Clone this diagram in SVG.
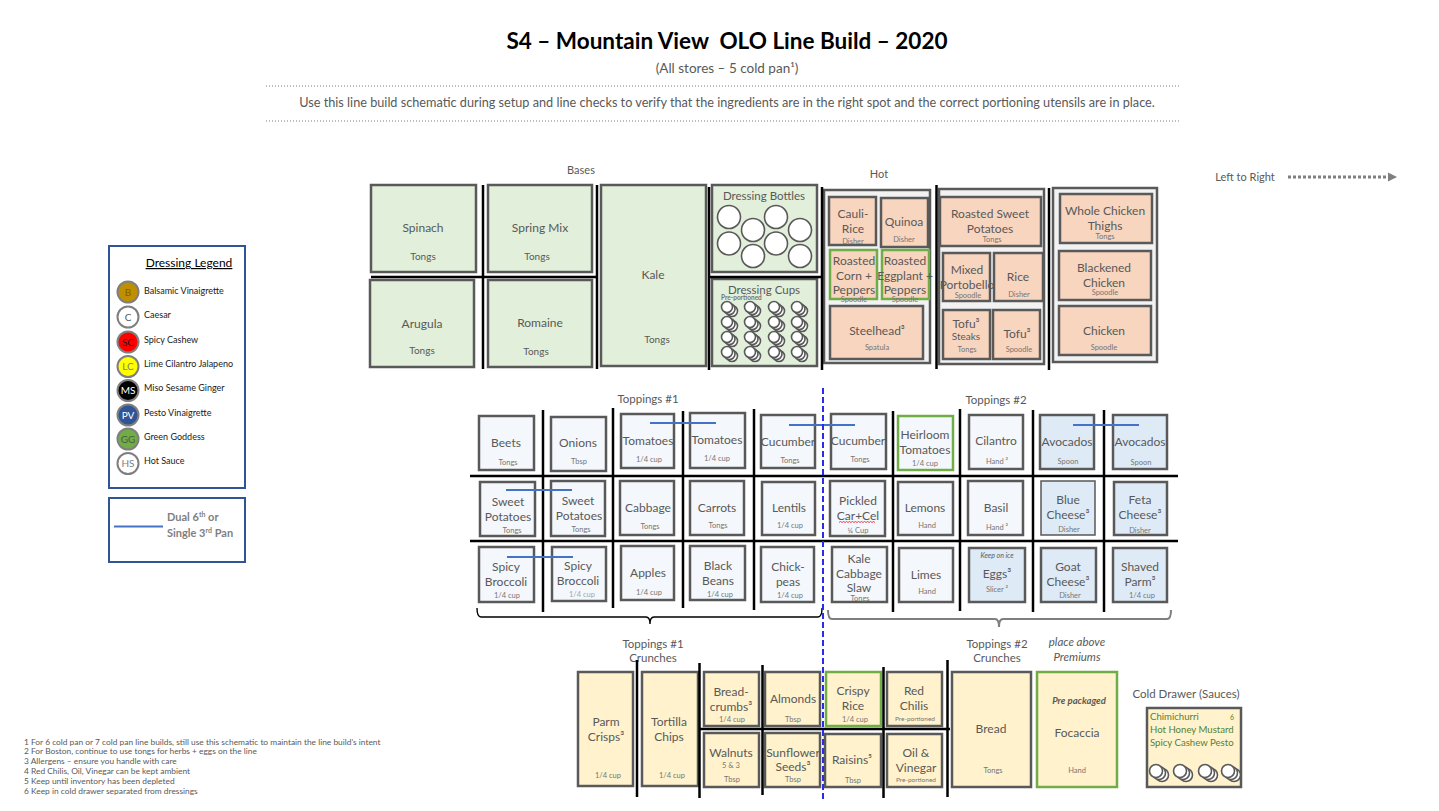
<svg xmlns="http://www.w3.org/2000/svg" xmlns:xlink="http://www.w3.org/1999/xlink" width="1439" height="811" viewBox="0 0 1439 811">
<style>
text{font-family:Lato,"Open Sans","Liberation Sans",sans-serif;fill:#595959}
.pan{stroke:#595959;stroke-width:2.5}
.g{fill:#E2EFDA}.h{fill:#F8D5BF}.t{fill:#F4F7FB}.p{fill:#DEEBF7}.c{fill:#FFF2CC}.box{fill:#F2F2F2;stroke:#595959;stroke-width:2.5}
.gs{stroke:#70AD47}
.sep{stroke:#000;stroke-width:2.5}
.dual{stroke:#4472C4;stroke-width:2}
.n{font-size:12px;text-anchor:middle}
.s{font-size:10px;text-anchor:middle}
.u{font-size:7.5px;fill:#767676;text-anchor:middle}
.lbl{font-size:11.5px;text-anchor:middle}
.lg{font-size:9px;fill:#1a1a1a}
.lc{stroke:#7F7F7F;stroke-width:2}
.lci{font-size:10px;text-anchor:middle}
.fn{font-size:8.4px;fill:#595959}
.cd{font-size:9.6px;fill:#548235}
.bot{fill:#fff;stroke:#595959;stroke-width:1.6}
</style>
<defs>
<g id="cup"><circle cx="5" cy="4" r="5.5" class="bot" stroke-width="1"/><circle cx="2.5" cy="2" r="5.5" class="bot" stroke-width="1"/><circle cx="0" cy="0" r="5.5" class="bot" stroke-width="1"/></g>
<g id="cup2"><circle cx="6" cy="4" r="6.5" class="bot" stroke-width="1"/><circle cx="3" cy="2" r="6.5" class="bot" stroke-width="1"/><circle cx="0" cy="0" r="6.5" class="bot" stroke-width="1"/></g>
</defs>

<g id="header">
<text x="727" y="49" text-anchor="middle" xml:space="preserve" style="font-size:22.5px;font-weight:bold;fill:#000">S4 – Mountain View  OLO Line Build – 2020</text>
<text x="727" y="73" text-anchor="middle" style="font-size:13.5px">(All stores – 5 cold pan¹)</text>
<line x1="266" y1="86" x2="1181" y2="86" stroke="#7F7F7F" stroke-width="1.2" stroke-dasharray="1 2"/>
<text x="727" y="107" text-anchor="middle" style="font-size:12.7px">Use this line build schematic during setup and line checks to verify that the ingredients are in the right spot and the correct portioning utensils are in place.</text>
<line x1="266" y1="121" x2="1181" y2="121" stroke="#7F7F7F" stroke-width="1.2" stroke-dasharray="1 2"/>
<text x="581" y="174" class="s" style="font-size:11px">Bases</text>
<text x="879" y="178" class="s" style="font-size:11px">Hot</text>
<text x="1245" y="181" class="s" style="font-size:11px">Left to Right</text>
<text x="648" y="403" class="lbl">Toppings #1</text>
<text x="996" y="404" class="lbl">Toppings #2</text>
<text x="653" y="648" class="lbl">Toppings #1</text>
<text x="653" y="662" class="lbl">Crunches</text>
<text x="997" y="648" class="lbl">Toppings #2</text>
<text x="997" y="662" class="lbl">Crunches</text>
<text x="1077" y="646" class="lbl" font-style="italic">place above</text>
<text x="1077" y="661" class="lbl" font-style="italic">Premiums</text>
<text x="1186" y="698" class="lbl">Cold Drawer (Sauces)</text>
</g>

<g id="legend">
<rect x="109" y="246" width="136" height="242" fill="#fff" stroke="#2F5597" stroke-width="2"/>
<text x="189" y="267" text-anchor="middle" text-decoration="underline" style="font-size:12px;fill:#000">Dressing Legend</text>
<circle cx="128" cy="292" r="10.5" class="lc" fill="#BF8F00"/><text x="128" y="295.5" class="lci" style="fill:#7F6000">B</text><text x="144" y="294" class="lg">Balsamic Vinaigrette</text>
<circle cx="128" cy="317" r="10.5" class="lc" fill="#fff"/><text x="128" y="320.5" class="lci">C</text><text x="144" y="318" class="lg">Caesar</text>
<circle cx="128" cy="342" r="10.5" class="lc" fill="#FF0000"/><text x="128" y="345.5" class="lci" style="fill:#1a1a1a">SC</text><text x="144" y="343" class="lg">Spicy Cashew</text>
<circle cx="128" cy="366.5" r="10.5" class="lc" fill="#FFFF00"/><text x="128" y="370" class="lci" style="fill:#7F7F7F">LC</text><text x="144" y="367" class="lg">Lime Cilantro Jalapeno</text>
<circle cx="128" cy="390.5" r="10.5" class="lc" fill="#000"/><text x="128" y="394" class="lci" style="fill:#fff">MS</text><text x="144" y="391" class="lg">Miso Sesame Ginger</text>
<circle cx="128" cy="415" r="10.5" class="lc" fill="#2F5597"/><text x="128" y="418.5" class="lci" style="fill:#fff">PV</text><text x="144" y="416" class="lg">Pesto Vinaigrette</text>
<circle cx="128" cy="439" r="10.5" class="lc" fill="#70AD47"/><text x="128" y="442.5" class="lci" style="fill:#4a5d40">GG</text><text x="144" y="440" class="lg">Green Goddess</text>
<circle cx="128" cy="463.5" r="10.5" class="lc" fill="#fff"/><text x="128" y="467" class="lci" style="fill:#7F7F7F">HS</text><text x="144" y="464" class="lg">Hot Sauce</text>
</g>

<g id="legend-dual">
<rect x="109" y="498" width="136" height="64" fill="#fff" stroke="#2F5597" stroke-width="2"/>
<line x1="114" y1="526.5" x2="163" y2="526.5" class="dual"/>
<text x="167" y="521" style="font-size:11px;font-weight:bold;fill:#7F7F7F">Dual 6<tspan dy="-4" font-size="7">th</tspan><tspan dy="4"> or</tspan></text>
<text x="167" y="537" style="font-size:11px;font-weight:bold;fill:#7F7F7F">Single 3<tspan dy="-4" font-size="7">rd</tspan><tspan dy="4"> Pan</tspan></text>
</g>

<g id="bases">
<g id="spinach"><rect class="pan g" x="371" y="185" width="105" height="87"/><text class="n" x="423" y="232">Spinach</text><text class="s" x="423" y="260">Tongs</text></g>
<g id="spring-mix"><rect class="pan g" x="488" y="185" width="104" height="87"/><text class="n" x="540" y="232">Spring Mix</text><text class="s" x="537" y="260">Tongs</text></g>
<g id="arugula"><rect class="pan g" x="370" y="280" width="104" height="87"/><text class="n" x="422" y="328">Arugula</text><text class="s" x="422" y="354">Tongs</text></g>
<g id="romaine"><rect class="pan g" x="488" y="280" width="104" height="87"/><text class="n" x="540" y="327">Romaine</text><text class="s" x="536" y="355">Tongs</text></g>
<g id="kale"><rect class="pan g" x="601" y="185" width="105" height="181"/><text class="n" x="653" y="279">Kale</text><text class="s" x="657" y="343">Tongs</text></g>
<g id="dressing-bottles"><rect class="pan g" x="712" y="185" width="105" height="87"/><text class="n" x="764" y="200" style="font-size:11.5px">Dressing Bottles</text>
<circle class="bot" cx="729" cy="217" r="11.5"/><circle class="bot" cx="776" cy="217" r="11.5"/><circle class="bot" cx="753" cy="230" r="11.5"/><circle class="bot" cx="800" cy="230" r="11.5"/>
<circle class="bot" cx="729" cy="243.5" r="11.5"/><circle class="bot" cx="776" cy="243.5" r="11.5"/><circle class="bot" cx="753" cy="256" r="11.5"/><circle class="bot" cx="800" cy="256" r="11.5"/></g>
<g id="dressing-cups"><rect class="pan g" x="712" y="279" width="105" height="87"/><text class="n" x="764" y="294" style="font-size:11.5px">Dressing Cups</text><text x="721" y="300" style="font-size:6.5px;font-weight:bold;fill:#767676">Pre-portioned</text>
<use xlink:href="#cup" x="727" y="307"/><use xlink:href="#cup" x="750" y="307"/><use xlink:href="#cup" x="774" y="307"/><use xlink:href="#cup" x="797" y="307"/>
<use xlink:href="#cup" x="727" y="322"/><use xlink:href="#cup" x="750" y="322"/><use xlink:href="#cup" x="774" y="322"/><use xlink:href="#cup" x="797" y="322"/>
<use xlink:href="#cup" x="727" y="337"/><use xlink:href="#cup" x="750" y="337"/><use xlink:href="#cup" x="774" y="337"/><use xlink:href="#cup" x="797" y="337"/>
<use xlink:href="#cup" x="727" y="352"/><use xlink:href="#cup" x="750" y="352"/><use xlink:href="#cup" x="774" y="352"/><use xlink:href="#cup" x="797" y="352"/></g>
</g>

<g id="hot">
<rect class="box" x="824" y="190" width="106" height="173"/>
<rect class="box" x="939" y="189" width="105" height="175"/>
<rect class="box" x="1053" y="188" width="104" height="174"/>
<g id="cauli-rice"><rect class="pan h" x="829" y="197" width="47" height="48"/><text class="n" x="853" y="218">Cauli-</text><text class="n" x="853" y="233">Rice</text><text class="u" x="853" y="244">Disher</text></g>
<g id="quinoa"><rect class="pan h" x="881" y="198" width="47" height="49"/><text class="n" x="904" y="226">Quinoa</text><text class="u" x="904" y="242">Disher</text></g>
<g id="roasted-corn"><rect class="pan h gs" x="830" y="250" width="47" height="49"/><text class="n" x="854" y="265">Roasted</text><text class="n" x="854" y="280">Corn +</text><text class="n" x="854" y="294">Peppers</text><text class="u" x="854" y="302">Spoodle</text></g>
<g id="roasted-eggplant"><rect class="pan h gs" x="882" y="250" width="47" height="49"/><text class="n" x="905" y="265">Roasted</text><text class="n" x="905" y="280">Eggplant +</text><text class="n" x="905" y="294">Peppers</text><text class="u" x="905" y="302">Spoodle</text></g>
<g id="steelhead"><rect class="pan h" x="830" y="306" width="93" height="53"/><text class="n" x="877" y="335">Steelhead³</text><text class="u" x="877" y="350">Spatula</text></g>
<g id="roasted-sweet-potatoes"><rect class="pan h" x="940" y="197" width="101" height="49"/><text class="n" x="990" y="218">Roasted Sweet</text><text class="n" x="990" y="233">Potatoes</text><text class="u" x="992" y="242">Tongs</text></g>
<g id="mixed-portobello"><rect class="pan h" x="943" y="253" width="47" height="48"/><text class="n" x="967" y="274">Mixed</text><text class="n" x="967" y="289">Portobello</text><text class="u" x="968" y="298">Spoodle</text></g>
<g id="rice"><rect class="pan h" x="994" y="253" width="49" height="48"/><text class="n" x="1018" y="281">Rice</text><text class="u" x="1019" y="297">Disher</text></g>
<g id="tofu-steaks"><rect class="pan h" x="943" y="310" width="47" height="49"/><text class="n" x="966" y="327.5">Tofu³</text><text class="n" x="966" y="340" style="font-size:10px">Steaks</text><text class="u" x="967" y="351.5">Tongs</text></g>
<g id="tofu"><rect class="pan h" x="993" y="310" width="47" height="49"/><text class="n" x="1017" y="338">Tofu³</text><text class="u" x="1019" y="352">Spoodle</text></g>
<g id="whole-chicken-thighs"><rect class="pan h" x="1060" y="194" width="92" height="49"/><text class="n" x="1105" y="215">Whole Chicken</text><text class="n" x="1105" y="230">Thighs</text><text class="u" x="1105" y="239">Tongs</text></g>
<g id="blackened-chicken"><rect class="pan h" x="1059" y="251" width="92" height="49"/><text class="n" x="1104" y="272">Blackened</text><text class="n" x="1104" y="287">Chicken</text><text class="u" x="1105" y="295">Spoodle</text></g>
<g id="chicken"><rect class="pan h" x="1059" y="306" width="92" height="49"/><text class="n" x="1104" y="335">Chicken</text><text class="u" x="1104" y="350">Spoodle</text></g>
</g>

<g id="toppings1">
<g id="beets"><rect class="pan t" x="479" y="416" width="55" height="54"/><text class="n" x="506" y="447">Beets</text><text class="u" x="508" y="465">Tongs</text></g>
<g id="onions"><rect class="pan t" x="551" y="417" width="55" height="54"/><text class="n" x="578" y="447">Onions</text><text class="u" x="579" y="464">Tbsp</text></g>
<g id="tomatoes-a"><rect class="pan t" x="621" y="414" width="53" height="54"/><text class="n" x="648" y="445">Tomatoes</text><text class="u" x="649" y="462">1/4 cup</text></g>
<g id="tomatoes-b"><rect class="pan t" x="690" y="413" width="55" height="55"/><text class="n" x="717" y="444">Tomatoes</text><text class="u" x="717" y="461">1/4 cup</text></g>
<g id="cucumber-a"><rect class="pan t" x="761" y="415" width="54" height="53"/><text class="n" x="788" y="446">Cucumber</text><text class="u" x="790" y="463">Tongs</text></g>
<g id="sweet-potatoes-a"><rect class="pan t" x="480" y="482" width="55" height="54"/><text class="n" x="508" y="506">Sweet</text><text class="n" x="508" y="521">Potatoes</text><text class="u" x="512" y="533">Tongs</text></g>
<g id="sweet-potatoes-b"><rect class="pan t" x="551" y="481" width="54" height="55"/><text class="n" x="578" y="505">Sweet</text><text class="n" x="579" y="520">Potatoes</text><text class="u" x="581" y="532">Tongs</text></g>
<g id="cabbage"><rect class="pan t" x="620" y="481" width="54" height="54"/><text class="n" x="648" y="512">Cabbage</text><text class="u" x="650" y="529">Tongs</text></g>
<g id="carrots"><rect class="pan t" x="690" y="481" width="54" height="54"/><text class="n" x="717" y="512">Carrots</text><text class="u" x="718" y="528">Tongs</text></g>
<g id="lentils"><rect class="pan t" x="762" y="482" width="53" height="53"/><text class="n" x="789" y="512">Lentils</text><text class="u" x="790" y="528">1/4 cup</text></g>
<g id="spicy-broccoli-a"><rect class="pan t" x="479" y="547" width="55" height="55"/><text class="n" x="506" y="571">Spicy</text><text class="n" x="506" y="585.5">Broccoli</text><text class="u" x="507" y="598">1/4 cup</text></g>
<g id="spicy-broccoli-b"><rect class="pan t" x="552" y="547" width="54" height="54"/><text class="n" x="578" y="570">Spicy</text><text class="n" x="578" y="585">Broccoli</text><text class="u" x="582" y="597" style="fill:#a6a6a6">1/4 cup</text></g>
<g id="apples"><rect class="pan t" x="621" y="546" width="53" height="54"/><text class="n" x="648" y="577">Apples</text><text class="u" x="649" y="595">1/4 cup</text></g>
<g id="black-beans"><rect class="pan t" x="690" y="546" width="55" height="54"/><text class="n" x="718" y="570">Black</text><text class="n" x="718" y="585">Beans</text><text class="u" x="720" y="597">1/4 cup</text></g>
<g id="chick-peas"><rect class="pan t" x="761" y="547" width="53" height="55"/><text class="n" x="788" y="571">Chick-</text><text class="n" x="788" y="586">peas</text><text class="u" x="790" y="598">1/4 cup</text></g>
</g>

<g id="toppings2">
<g id="cucumber-b"><rect class="pan t" x="831" y="414" width="55" height="55"/><text class="n" x="858" y="445">Cucumber</text><text class="u" x="860" y="462">Tongs</text></g>
<g id="heirloom-tomatoes"><rect class="pan t gs" x="898" y="416" width="55" height="54"/><text class="n" x="925" y="439">Heirloom</text><text class="n" x="925" y="454">Tomatoes</text><text class="u" x="925" y="466">1/4 cup</text></g>
<g id="cilantro"><rect class="pan t" x="969" y="415" width="54" height="54"/><text class="n" x="996" y="445">Cilantro</text><text class="u" x="997" y="464">Hand ²</text></g>
<g id="avocados-a"><rect class="pan p" x="1040" y="415" width="54" height="54"/><text class="n" x="1067" y="446">Avocados</text><text class="u" x="1068" y="464">Spoon</text></g>
<g id="avocados-b"><rect class="pan p" x="1113" y="415" width="54" height="54"/><text class="n" x="1140" y="446">Avocados</text><text class="u" x="1141" y="465">Spoon</text></g>
<g id="pickled-car-cel"><rect class="pan t" x="830" y="481" width="55" height="55"/><text class="n" x="858" y="505">Pickled</text><text class="n" x="858" y="520">Car+Cel</text><text class="u" x="858" y="533">¼ Cup</text><path d="M839 522.5l1.5-1 1.5 1 1.5-1 1.5 1 1.5-1 1.5 1 1.5-1 1.5 1 1.5-1 1.5 1 1.5-1 1.5 1 1.5-1 1.5 1 1.5-1 1.5 1 1.5-1 1.5 1 1.5-1 1.5 1 1.5-1 1.5 1 1.5-1 1.5 1" fill="none" stroke="#E81123" stroke-width="0.8"/></g>
<g id="lemons"><rect class="pan t" x="898" y="482" width="55" height="53"/><text class="n" x="925" y="512">Lemons</text><text class="u" x="927" y="528">Hand</text></g>
<g id="basil"><rect class="pan t" x="968" y="481" width="55" height="54"/><text class="n" x="996" y="512">Basil</text><text class="u" x="997" y="530">Hand ²</text></g>
<g id="blue-cheese"><rect class="p" stroke="#595959" stroke-width="1.5" x="1041" y="481" width="54" height="54"/><text class="n" x="1068" y="504">Blue</text><text class="n" x="1068" y="519">Cheese³</text><text class="u" x="1069" y="532">Disher</text></g>
<g id="feta-cheese"><rect class="pan p" x="1114" y="482" width="53" height="53"/><text class="n" x="1140" y="504">Feta</text><text class="n" x="1140" y="519">Cheese³</text><text class="u" x="1140" y="533">Disher</text></g>
<g id="kale-cabbage-slaw"><rect class="pan t" x="832" y="547" width="55" height="55"/><text class="n" x="859" y="563">Kale</text><text class="n" x="859" y="577.5">Cabbage</text><text class="n" x="859" y="591.5">Slaw</text><text class="u" x="860" y="600.5">Tongs</text></g>
<g id="limes"><rect class="pan t" x="899" y="548" width="54" height="54"/><text class="n" x="926" y="579">Limes</text><text class="u" x="927" y="594">Hand</text></g>
<g id="eggs"><rect class="pan p" x="969" y="548" width="56" height="54"/><text class="u" x="997" y="558" font-style="italic" style="font-size:7px;fill:#595959">Keep on ice</text><text class="n" x="997" y="578">Eggs³</text><text class="u" x="997" y="592">Slicer ²</text></g>
<g id="goat-cheese"><rect class="pan p" x="1041" y="548" width="55" height="54"/><text class="n" x="1068" y="571">Goat</text><text class="n" x="1068" y="585.5">Cheese³</text><text class="u" x="1070" y="598">Disher</text></g>
<g id="shaved-parm"><rect class="pan p" x="1113" y="548" width="54" height="54"/><text class="n" x="1140" y="571">Shaved</text><text class="n" x="1140" y="586">Parm³</text><text class="u" x="1142" y="598">1/4 cup</text></g>
</g>

<g id="crunches">
<g id="parm-crisps"><rect class="pan c" x="578" y="672" width="55" height="114"/><text class="n" x="606" y="726">Parm</text><text class="n" x="606" y="741">Crisps³</text><text class="u" x="608" y="778">1/4 cup</text></g>
<g id="tortilla-chips"><rect class="pan c" x="642" y="672" width="56" height="114"/><text class="n" x="669" y="726">Tortilla</text><text class="n" x="669" y="741">Chips</text><text class="u" x="672" y="778">1/4 cup</text></g>
<g id="breadcrumbs"><rect class="pan c" x="704" y="672" width="55" height="54"/><text class="n" x="731" y="696">Bread-</text><text class="n" x="731" y="711">crumbs³</text><text class="u" x="732" y="722">1/4 cup</text></g>
<g id="almonds"><rect class="pan c" x="765" y="672" width="55" height="54"/><text class="n" x="793" y="703">Almonds</text><text class="u" x="793" y="722">Tbsp</text></g>
<g id="crispy-rice"><rect class="pan c gs" x="826" y="672" width="55" height="54"/><text class="n" x="853" y="695">Crispy</text><text class="n" x="853" y="710">Rice</text><text class="u" x="855" y="722">1/4 cup</text></g>
<g id="red-chilis"><rect class="pan c" x="887" y="672" width="55" height="54"/><text class="n" x="914" y="695">Red</text><text class="n" x="914" y="710">Chilis</text><text class="u" x="915" y="721" style="font-size:6.5px">Pre-portioned</text></g>
<g id="walnuts"><rect class="pan c" x="704" y="733" width="55" height="54"/><text class="n" x="731" y="757">Walnuts</text><text class="u" x="731" y="768">5 &amp; 3</text><text class="u" x="732" y="782">Tbsp</text></g>
<g id="sunflower-seeds"><rect class="pan c" x="765" y="733" width="55" height="54"/><text class="n" x="793" y="757">Sunflower</text><text class="n" x="793" y="771">Seeds³</text><text class="u" x="793" y="782">Tbsp</text></g>
<g id="raisins"><rect class="pan c" x="825" y="734" width="56" height="53"/><text class="n" x="852" y="764">Raisins⁵</text><text class="u" x="853" y="783">Tbsp</text></g>
<g id="oil-vinegar"><rect class="pan c" x="887" y="734" width="55" height="53"/><text class="n" x="916" y="757">Oil &amp;</text><text class="n" x="916" y="772">Vinegar</text><text class="u" x="916" y="782" style="font-size:6.5px">Pre-portioned</text></g>
<g id="bread"><rect class="pan c" x="952" y="672" width="79" height="115"/><text class="n" x="991" y="733">Bread</text><text class="u" x="993" y="773">Tongs</text></g>
<g id="focaccia"><rect class="pan c gs" x="1037" y="672" width="80" height="115"/><text class="n" x="1079" y="704" style="font-size:9.5px;font-weight:bold;font-style:italic">Pre packaged</text><text class="n" x="1077" y="737">Focaccia</text><text class="u" x="1077" y="773">Hand</text></g>
<g id="cold-drawer"><rect class="pan c" x="1147" y="708" width="94" height="79"/><text class="cd" x="1150" y="720">Chimichurri</text><text class="cd" x="1230" y="720" style="font-size:7px">6</text><text class="cd" x="1150" y="733">Hot Honey Mustard</text><text class="cd" x="1150" y="746">Spicy Cashew Pesto</text>
<use xlink:href="#cup2" x="1156" y="771"/><use xlink:href="#cup2" x="1180" y="771"/><use xlink:href="#cup2" x="1205" y="771"/><use xlink:href="#cup2" x="1228" y="771"/></g>
</g>

<g id="separators">
<line class="sep" x1="483" y1="185" x2="483" y2="369"/>
<line class="sep" x1="597" y1="185" x2="597" y2="369"/>
<line class="sep" x1="709" y1="187" x2="709" y2="370"/>
<line class="sep" x1="822" y1="187" x2="822" y2="370"/>
<line class="sep" x1="936.5" y1="185" x2="936.5" y2="369"/>
<line class="sep" x1="1049" y1="188" x2="1049" y2="370"/>
<line class="sep" x1="371" y1="277" x2="597" y2="277"/>
<line class="sep" x1="709" y1="277" x2="822" y2="277"/>
<line class="sep" x1="543" y1="410" x2="543" y2="612"/>
<line class="sep" x1="613" y1="408" x2="613" y2="608"/>
<line class="sep" x1="683" y1="411" x2="683" y2="608"/>
<line class="sep" x1="754" y1="409" x2="754" y2="610"/>
<line class="sep" x1="893" y1="411" x2="893" y2="612"/>
<line class="sep" x1="960" y1="409" x2="960" y2="611"/>
<line class="sep" x1="1033" y1="410" x2="1033" y2="612"/>
<line class="sep" x1="1104" y1="410" x2="1104" y2="612"/>
<line class="sep" x1="470" y1="476" x2="1178" y2="476"/>
<line class="sep" x1="470" y1="541" x2="1178" y2="541"/>
<line class="sep" x1="637" y1="660" x2="637" y2="797"/>
<line class="sep" x1="699.5" y1="663" x2="699.5" y2="798"/>
<line class="sep" x1="762.5" y1="665" x2="762.5" y2="795"/>
<line class="sep" x1="883.5" y1="667" x2="883.5" y2="798"/>
<line class="sep" x1="947.5" y1="660" x2="947.5" y2="797"/>
<line class="sep" x1="700" y1="729" x2="950" y2="729"/>
<path d="M477 608Q477 617 481 617L646 617Q650 617 650 624Q650 617 654 617L818 617Q822 617 822 608" fill="none" stroke="#000" stroke-width="1.4"/>
<path d="M828 610Q828 619 832 619L995 619Q999 619 999 627Q999 619 1003 619L1167 619Q1171 619 1171 610" fill="none" stroke="#7F7F7F" stroke-width="2"/>
</g>

<g id="connectors">
<line class="dual" x1="650" y1="423" x2="716" y2="423"/>
<line class="dual" x1="789" y1="425" x2="855" y2="425"/>
<line class="dual" x1="506" y1="490" x2="572" y2="490"/>
<line class="dual" x1="507" y1="557" x2="573" y2="557"/>
<line class="dual" x1="1073" y1="425" x2="1139" y2="425"/>
<line x1="823" y1="388" x2="823" y2="800" stroke="#2B2BF0" stroke-width="2" stroke-dasharray="6 3"/>
<line x1="1288" y1="177" x2="1388" y2="177" stroke="#7F7F7F" stroke-width="3" stroke-dasharray="3 2"/>
<polygon points="1388,172.5 1397,177 1388,181.5" fill="#7F7F7F"/>
</g>

<g id="footnotes">
<text class="fn" x="24" y="744.5">1 For 6 cold pan or 7 cold pan line builds, still use this schematic to maintain the line build’s intent</text>
<text class="fn" x="24" y="754.3">2 For Boston, continue to use tongs for herbs + eggs on the line</text>
<text class="fn" x="24" y="764.1">3 Allergens – ensure you handle with care</text>
<text class="fn" x="24" y="773.9">4 Red Chilis, Oil, Vinegar can be kept ambient</text>
<text class="fn" x="24" y="783.7">5 Keep until inventory has been depleted</text>
<text class="fn" x="24" y="793.5">6 Keep in cold drawer separated from dressings</text>
</g>
</svg>
